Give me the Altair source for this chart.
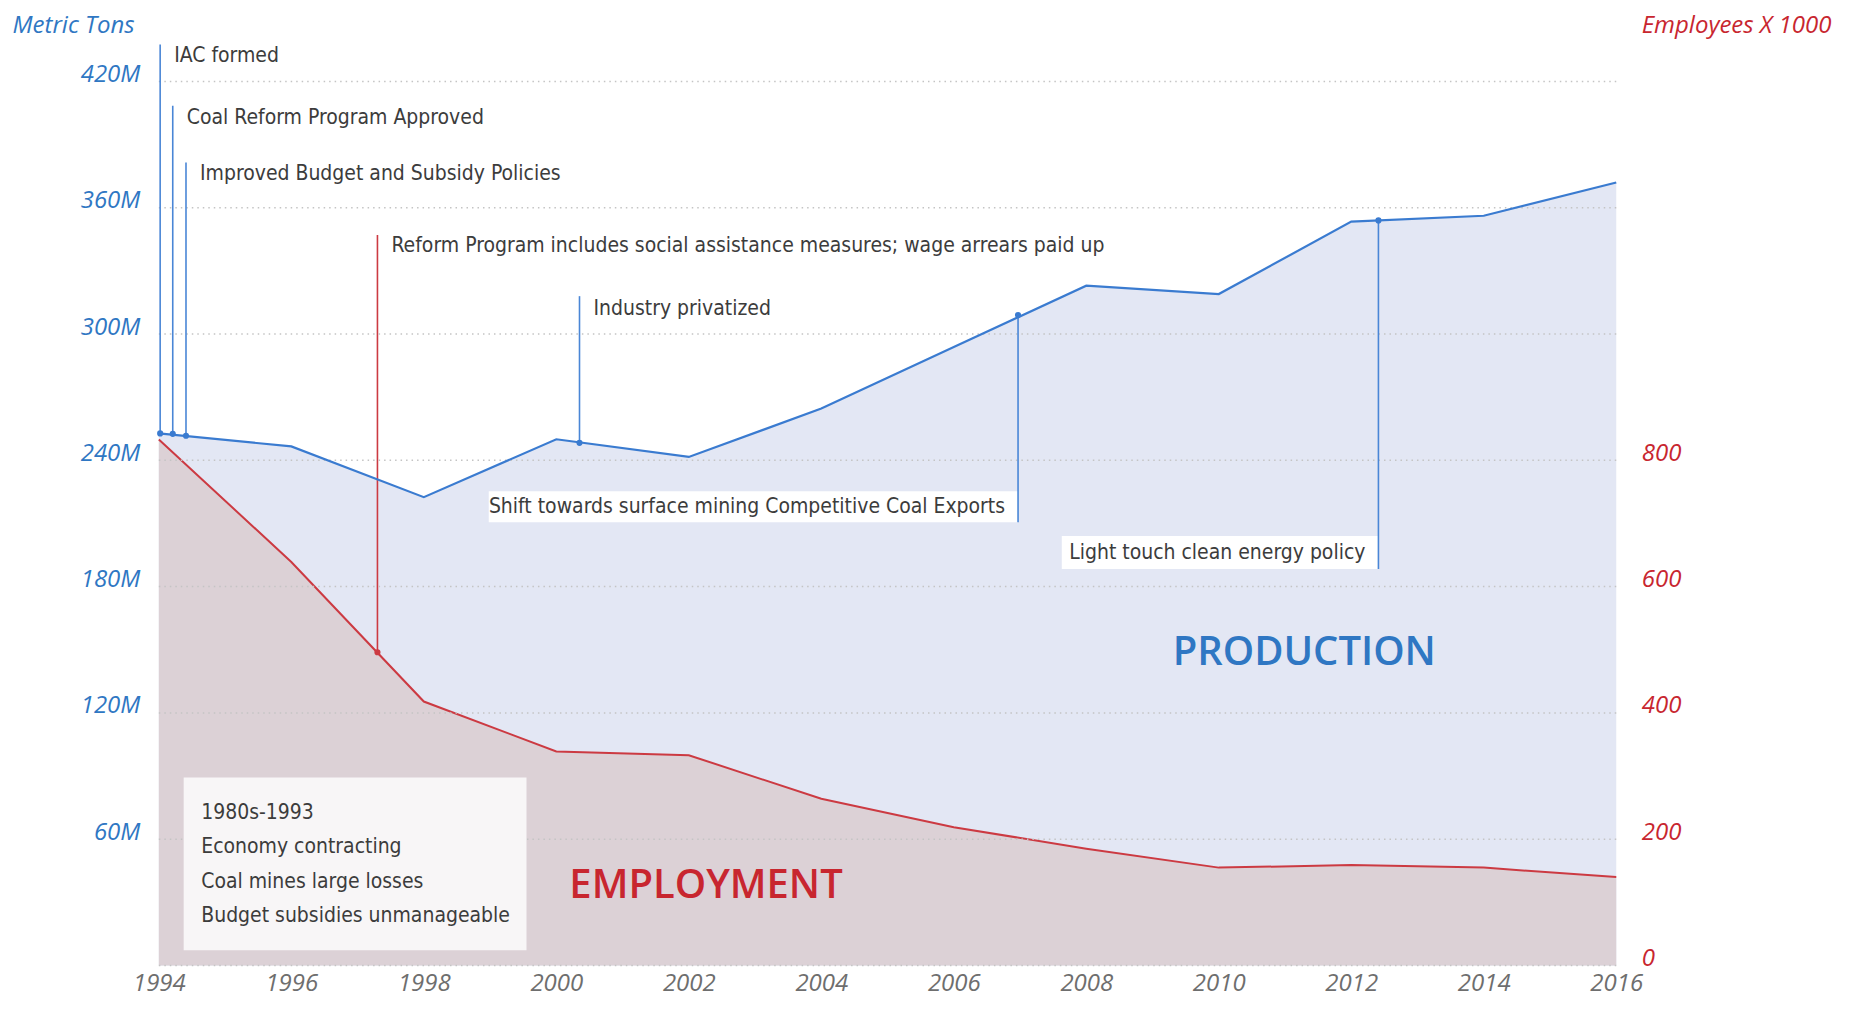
import altair as alt
import pandas as pd

# ---------------- data ----------------
years = [1994, 1996, 1998, 2000, 2002, 2004, 2006, 2008, 2010, 2012, 2014, 2016]
production_m = [252.8, 246.6, 222.5, 250.0, 241.6, 264.6, 293.8, 323.0, 319.0, 353.4, 356.2, 372.0]
employment_k = [833, 639, 418, 339, 333, 264, 219, 185, 155, 159, 155, 140]

left_ticks = [0, 60, 120, 180, 240, 300, 360, 420]
left_label_ticks = [60, 120, 180, 240, 300, 360, 420]
right_ticks = [0, 200, 400, 600, 800]
year_ticks = [1994, 1996, 1998, 2000, 2002, 2004, 2006, 2008, 2010, 2012, 2014, 2016]

# events on the production line, labels above
up_labels = ["IAC formed", "Coal Reform Program Approved",
             "Improved Budget and Subsidy Policies", "Industry privatized"]
up_x = [1994.02, 1994.21, 1994.41, 2000.35]
up_y = [252.8, 252.6, 251.7, 248.3]
up_top = [437.6, 408.4, 381.5, 318.0]
up_label_y = [432.0, 402.8, 375.8, 311.8]

# events on the production line, labels below
down_labels = ["Shift towards surface mining Competitive Coal Exports",
               "Light touch clean energy policy"]
down_x = [2006.97, 2012.41]
down_y = [309.0, 354.0]
down_bottom = [210.6, 188.4]
down_label_y = [218.0, 196.0]
down_box_x = [1998.98, 2007.63]
down_box_top = [225.3, 204.0]

# event on the employment line
red_label = ["Reform Program includes social assistance measures; wage arrears paid up"]
red_x = [1997.3]
red_y = [496.0]
red_top = [1157.0]
red_label_y = [1139.0]

# note box
note_lines = ["1980s-1993", "Economy contracting", "Coal mines large losses",
              "Budget subsidies unmanageable"]
note_line_y = [72.5, 56.2, 39.9, 23.6]
note_x = [1994.64]
note_box = {"x": [1994.375], "x2": [1999.55], "y": [89.3], "y2": [7.3]}

big_labels = ["PRODUCTION", "EMPLOYMENT"]
big_x = [2011.29, 2002.26]
big_y = [148.3, 37.6]

# ---------------- styles ----------------
BLUE_TXT = "#2f77c3"
BLUE_LINE = "#3a7bd0"
BLUE_RULE = "#4a86d6"
BLUE_FILL = "#e3e7f4"
RED_TXT = "#c8262f"
RED_LINE = "#cc3a42"
RED_FILL = "#dcd1d6"
GRAY_TXT = "#6e6e6e"
ANNO = "#3c3c3c"
NARROW = "'DejaVu Sans Condensed', Roboto, sans-serif"
SANS = "Open Sans"
ANNO_SIZE = 21
AX_SIZE = 24

W, H = 1459, 885

df = pd.DataFrame({"year": years, "production": production_m, "employment": employment_k})

xscale = alt.Scale(domain=[1994, 2016], nice=False, zero=False)
yL = alt.Scale(domain=[0, 420], nice=False)
yR = alt.Scale(domain=[0, 1400], nice=False)

xaxis = alt.Axis(orient="bottom", values=year_ticks, labelExpr="datum.value + ''", title=None,
                 domain=False, ticks=False, grid=False, labelFont=SANS,
                 labelFontStyle="italic", labelFontSize=AX_SIZE, labelColor=GRAY_TXT,
                 labelBaseline="alphabetic", labelPadding=25, labelFlush=False)

left_axis = alt.Axis(orient="left", values=left_label_ticks, labelExpr="datum.value + 'M'",
                     domain=False, ticks=False, grid=False, labelPadding=19,
                     labelFont=SANS, labelFontStyle="italic", labelFontSize=AX_SIZE,
                     labelColor=BLUE_TXT, labelBaseline="alphabetic",
                     title="Metric Tons", titleAngle=0, titleAlign="left",
                     titleBaseline="alphabetic", titleX=-147, titleY=-49,
                     titleFont=SANS, titleFontStyle="italic", titleFontWeight="normal",
                     titleFontSize=AX_SIZE, titleColor=BLUE_TXT)

right_axis = alt.Axis(orient="right", values=right_ticks, labelExpr="datum.value + ''",
                      domain=False, ticks=False, grid=False, labelPadding=25,
                      labelFont=SANS, labelFontStyle="italic", labelFontSize=AX_SIZE,
                      labelColor=RED_TXT, labelBaseline="alphabetic",
                      title="Employees X 1000", titleAngle=0, titleAlign="left",
                      titleBaseline="alphabetic", titleX=25, titleY=-49,
                      titleFont=SANS, titleFontStyle="italic", titleFontWeight="normal",
                      titleFontSize=AX_SIZE, titleColor=RED_TXT)


def xq(field):
    return alt.X(field, scale=xscale, axis=xaxis, title=None)


def yl(field):
    return alt.Y(field, scale=yL, axis=None)


def yr(field):
    return alt.Y(field, scale=yR, axis=None)


# ---- 1: production area (left axis + x axis) ----
blue_area = alt.Chart(df).mark_area(color=BLUE_FILL, opacity=1).encode(
    x=xq("year:Q"),
    y=alt.Y("production:Q", scale=yL, axis=left_axis))

# ---- 2: employment area (right axis) ----
red_area = alt.Chart(df).mark_area(color=RED_FILL, opacity=1).encode(
    x=xq("year:Q"), y=alt.Y("employment:Q", scale=yR, axis=right_axis))

# ---- 3: employment overlays ----
red_ln = alt.Chart(df).mark_line(color=RED_LINE, strokeWidth=2).encode(
    x=xq("year:Q"), y=yr("employment:Q"))
red_df = pd.DataFrame({"x": red_x, "y": red_y, "top": red_top, "ly": red_label_y, "label": red_label})
red_rule = alt.Chart(red_df).mark_rule(color=RED_LINE, strokeWidth=1.6).encode(
    x=xq("x:Q"), y=yr("y:Q"), y2="top:Q")
red_pt = alt.Chart(red_df).mark_circle(color=RED_LINE, size=38, opacity=1).encode(
    x=xq("x:Q"), y=yr("y:Q"))
red_txt = alt.Chart(red_df).mark_text(align="left", baseline="middle", dx=14, font=NARROW,
                                      fontSize=ANNO_SIZE, color=ANNO).encode(
    x=xq("x:Q"), y=yr("ly:Q"), text="label:N")
group_red = alt.layer(red_ln, red_rule, red_pt, red_txt)

# ---- 4: overlays on left scale ----
grid = alt.Chart(pd.DataFrame({"v": left_ticks})).mark_rule(
    color="#c4c4c4", strokeWidth=1.5, strokeDash=[1.5, 4]).encode(y=yl("v:Q"))
blue_ln = alt.Chart(df).mark_line(color=BLUE_LINE, strokeWidth=2.2).encode(
    x=xq("year:Q"), y=yl("production:Q"))

up_df = pd.DataFrame({"x": up_x, "y": up_y, "top": up_top, "ly": up_label_y, "label": up_labels})
up_rule = alt.Chart(up_df).mark_rule(color=BLUE_RULE, strokeWidth=1.6).encode(
    x=xq("x:Q"), y=yl("y:Q"), y2="top:Q")
up_pt = alt.Chart(up_df).mark_circle(color=BLUE_LINE, size=38, opacity=1).encode(
    x=xq("x:Q"), y=yl("y:Q"))
up_txt = alt.Chart(up_df).mark_text(align="left", baseline="middle", dx=14, font=NARROW,
                                    fontSize=ANNO_SIZE, color=ANNO).encode(
    x=xq("x:Q"), y=yl("ly:Q"), text="label:N")

down_df = pd.DataFrame({"x": down_x, "y": down_y, "bottom": down_bottom, "ly": down_label_y,
                        "bx": down_box_x, "btop": down_box_top, "label": down_labels})
down_box = alt.Chart(down_df).mark_rect(color="white", opacity=1).encode(
    x=xq("bx:Q"), x2="x:Q", y=yl("btop:Q"), y2="bottom:Q")
down_rule = alt.Chart(down_df).mark_rule(color=BLUE_RULE, strokeWidth=1.6).encode(
    x=xq("x:Q"), y=yl("y:Q"), y2="bottom:Q")
down_pt = alt.Chart(down_df).mark_circle(color=BLUE_LINE, size=38, opacity=1).encode(
    x=xq("x:Q"), y=yl("y:Q"))
down_txt = alt.Chart(down_df).mark_text(align="right", baseline="middle", dx=-13, font=NARROW,
                                        fontSize=ANNO_SIZE, color=ANNO).encode(
    x=xq("x:Q"), y=yl("ly:Q"), text="label:N")

note_rect = alt.Chart(pd.DataFrame(note_box)).mark_rect(color="#f8f6f7", opacity=1).encode(
    x=xq("x:Q"), x2="x2:Q", y=yl("y:Q"), y2="y2:Q")
note_df = pd.DataFrame({"x": note_x * len(note_lines), "y": note_line_y, "t": note_lines})
note_txt = alt.Chart(note_df).mark_text(align="left", baseline="middle", font=NARROW,
                                        fontSize=ANNO_SIZE, color=ANNO).encode(
    x=xq("x:Q"), y=yl("y:Q"), text="t:N")

big_df = pd.DataFrame({"x": big_x, "y": big_y, "t": big_labels, "c": [BLUE_TXT, RED_TXT]})
big_txt = alt.Chart(big_df).mark_text(align="center", baseline="middle", font=SANS,
                                      fontSize=40, fontWeight=600).encode(
    x=xq("x:Q"), y=yl("y:Q"), text="t:N", color=alt.Color("c:N", scale=None))

group_over = alt.layer(grid, blue_ln, up_rule, up_pt, up_txt, down_box, down_rule, down_pt,
                       down_txt, note_rect, note_txt, big_txt)

chart = alt.layer(blue_area, red_area, group_red, group_over).resolve_scale(
    y="independent").properties(
    width=W, height=H,
    autosize=alt.AutoSizeParams(type="none"),
    padding={"left": 151, "top": 73, "right": 232, "bottom": 32},
    background="white",
).configure_view(stroke=None)

chart.save("out.html", embed_options={"renderer": "svg", "actions": False})
